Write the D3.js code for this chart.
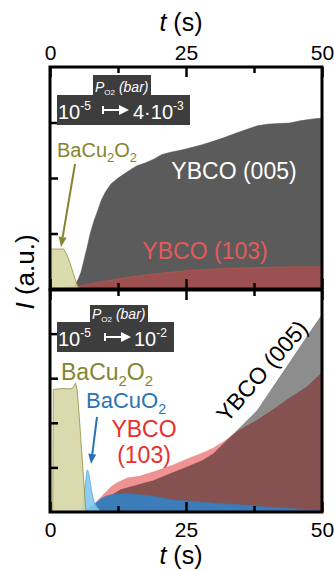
<!DOCTYPE html>
<html><head><meta charset="utf-8">
<script src="https://cdn.jsdelivr.net/npm/d3@7"></script>
<style>body{margin:0;background:#fff}svg{display:block}text{font-family:"Liberation Sans",Arial,sans-serif}</style>
</head><body><svg id="c" width="334" height="571"></svg>
<script>
// ---- data ----
const xTicksMajor = [0, 25, 50];
const xTicksMinor = [12.5, 37.5];
const yTicksTop = [1, 2, 3];
const yTicksBot = [1, 2, 3, 4];

// top panel (pO2 1e-5 -> 4e-3)
const topBaCu2O2_t = [0, 2.5, 3.1, 3.7, 4.3, 4.9, 5.4];
const topBaCu2O2_v = [0.72, 0.72, 0.62, 0.46, 0.28, 0.10, 0];
const topY005_t = [4.0, 4.6, 5.2, 5.7, 6.2, 6.8, 7.4, 8.1, 8.8, 9.4, 10.2, 11.2, 12.4, 13.6, 14.8, 16.0, 17.5, 19.1, 20.5, 22, 24, 25.7, 28, 30, 31.8, 34, 36, 38.1, 40, 42, 44.1, 46, 48, 50];
const topY005_v = [0, 0.06, 0.18, 0.30, 0.50, 0.74, 1.0, 1.23, 1.42, 1.59, 1.75, 1.89, 1.99, 2.07, 2.15, 2.22, 2.27, 2.34, 2.42, 2.46, 2.50, 2.54, 2.60, 2.66, 2.72, 2.80, 2.87, 2.94, 2.97, 2.98, 2.99, 3.03, 3.06, 3.08];
const topY103_t = [0, 5, 10, 15, 20, 25, 30, 35, 40, 45, 50];
const topY103_v = [0, 0.05, 0.14, 0.22, 0.28, 0.33, 0.36, 0.38, 0.39, 0.40, 0.40];

// bottom panel (pO2 1e-5 -> 1e-2)
const botBaCu2O2_t = [0.5, 0.6, 1.5, 2.5, 3.5, 4.2, 4.7, 5.0, 5.4, 5.8, 6.2, 6.6];
const botBaCu2O2_v = [0, 2.75, 2.76, 2.77, 2.76, 2.78, 2.89, 2.73, 2.1, 1.4, 0.7, 0];
const botBaCuO2peak_t = [5.4, 5.9, 6.3, 6.6, 6.85, 7.1, 7.4, 7.8, 8.3, 8.9, 9.5];
const botBaCuO2peak_v = [0, 0.1, 0.4, 0.75, 0.94, 0.88, 0.66, 0.38, 0.18, 0.07, 0];
const botBaCuO2_t = [5, 6, 7, 8, 9, 10, 11, 12, 14, 16, 18, 20, 22.6, 25, 28, 31, 35, 38, 41, 44, 47, 50];
const botBaCuO2_v = [0, 0.03, 0.08, 0.16, 0.26, 0.34, 0.38, 0.40, 0.41, 0.39, 0.37, 0.33, 0.27, 0.25, 0.22, 0.19, 0.16, 0.13, 0.10, 0.08, 0.05, 0.03];
const botY103_t = [6, 8, 9.5, 11.2, 12.3, 14.2, 16.5, 19.1, 22.6, 25.7, 28, 30, 32, 34.9, 38, 41, 44, 47.2, 50];
const botY103_v = [0, 0.15, 0.35, 0.56, 0.65, 0.76, 0.80, 0.90, 1.05, 1.21, 1.32, 1.43, 1.58, 1.84, 2.05, 2.29, 2.55, 2.80, 3.12];
const botY005_t = [7, 9, 11, 13, 16, 19, 22, 25, 28, 30, 32.5, 35, 38.2, 41, 44, 47, 50];
const botY005_v = [0, 0.15, 0.35, 0.5, 0.6, 0.7, 0.85, 1.0, 1.15, 1.3, 1.6, 1.9, 2.29, 2.8, 3.34, 3.89, 4.42];

// ---- drawing ----
const svg = d3.select("#c");
svg.append("rect").attr("width",334).attr("height",571).attr("fill","#fff");
const L = 50, R = 322;
const x = d3.scaleLinear().domain([0,50]).range([L,R]);
const yT = d3.scaleLinear().domain([0,4]).range([289,67]);
const yB = d3.scaleLinear().domain([0,5]).range([512,289]);
const zip = (t,v) => t.map((d,i)=>[d,v[i]]);

const defs = svg.append("defs");
defs.append("clipPath").attr("id","clipT").append("rect").attr("x",L).attr("y",67).attr("width",R-L).attr("height",289-67);
defs.append("clipPath").attr("id","clipB").append("rect").attr("x",L).attr("y",290).attr("width",R-L).attr("height",512-290);

function area(y){ return d3.area().x(d=>x(d[0])).y0(y(0)).y1(d=>y(d[1])).curve(d3.curveLinear); }

// top panel marks
const gT = svg.append("g").attr("clip-path","url(#clipT)");
gT.append("path").datum(zip(topY005_t,topY005_v)).attr("d",area(yT)).attr("fill","#5b5b5b").attr("stroke","#555").attr("stroke-width",0.6);
gT.append("path").datum(zip(topY103_t,topY103_v)).attr("d",area(yT).curve(d3.curveMonotoneX)).attr("fill","rgba(222,72,72,0.5)").attr("stroke","rgba(220,80,80,0.6)").attr("stroke-width",0.8);
gT.append("path").datum(zip(topBaCu2O2_t,topBaCu2O2_v)).attr("d",area(yT)).attr("fill","rgba(212,212,158,0.85)").attr("stroke","#8f8f45").attr("stroke-width",0.8);

// bottom panel marks
const gB = svg.append("g").attr("clip-path","url(#clipB)");
gB.append("rect").attr("x",L).attr("y",290).attr("width",R-L).attr("height",222).attr("fill","#fff");
gB.append("path").datum(zip(botY005_t,botY005_v)).attr("d",area(yB)).attr("fill","#8d8d8d").attr("stroke","#7a7a7a").attr("stroke-width",0.6);
gB.append("path").datum(zip(botY103_t,botY103_v)).attr("d",area(yB)).attr("fill","#f29393").style("mix-blend-mode","multiply").attr("stroke","#e88080").attr("stroke-width",0.6);
gB.append("path").datum(zip(botBaCuO2_t,botBaCuO2_v)).attr("d",area(yB).curve(d3.curveMonotoneX)).attr("fill","#3c7cb8").attr("stroke","#3a78b0").attr("stroke-width",0.6);
gB.append("path").datum(zip(botBaCuO2peak_t,botBaCuO2peak_v)).attr("d",area(yB).curve(d3.curveMonotoneX)).attr("fill","rgba(130,200,240,0.9)").attr("stroke","#5aa8dc").attr("stroke-width",0.8);
gB.append("path").datum(zip(botBaCu2O2_t,botBaCu2O2_v)).attr("d",area(yB)).attr("fill","rgba(212,212,160,0.85)").attr("stroke","#8f8f45").attr("stroke-width",0.8);

// axes
function styleAxis(g){ g.select(".domain").remove(); g.selectAll(".tick line").attr("stroke","#000").attr("stroke-width",2.5); g.selectAll("text").attr("fill","#000").attr("font-size",21).attr("font-family","'Liberation Sans',Arial,sans-serif"); }
svg.append("g").attr("transform","translate(0,67)").call(d3.axisTop(x).tickValues(xTicksMajor).tickSize(-10).tickPadding(7)).call(styleAxis);
svg.append("g").attr("transform","translate(0,67)").call(d3.axisTop(x).tickValues(xTicksMinor).tickSize(-6).tickFormat("")).call(styleAxis);
svg.append("g").attr("transform","translate(0,289)").call(d3.axisBottom(x).tickValues(xTicksMajor).tickSize(-10).tickFormat("")).call(styleAxis);
svg.append("g").attr("transform","translate(0,289)").call(d3.axisBottom(x).tickValues(xTicksMinor).tickSize(-6).tickFormat("")).call(styleAxis);
svg.append("g").attr("transform","translate(0,290)").call(d3.axisTop(x).tickValues(xTicksMajor).tickSize(-10).tickFormat("")).call(styleAxis);
svg.append("g").attr("transform","translate(0,290)").call(d3.axisTop(x).tickValues(xTicksMinor).tickSize(-6).tickFormat("")).call(styleAxis);
svg.append("g").attr("transform","translate(0,512)").call(d3.axisBottom(x).tickValues(xTicksMajor).tickSize(-10).tickPadding(10)).call(styleAxis);
svg.append("g").attr("transform","translate(0,512)").call(d3.axisBottom(x).tickValues(xTicksMinor).tickSize(-6).tickFormat("")).call(styleAxis);
svg.append("g").attr("transform",`translate(${L},0)`).call(d3.axisLeft(yT).tickValues(yTicksTop).tickSize(-8).tickFormat("")).call(styleAxis);
svg.append("g").attr("transform",`translate(${L},0)`).call(d3.axisLeft(yB).tickValues(yTicksBot).tickSize(-8).tickFormat("")).call(styleAxis);

// frames
svg.append("rect").attr("x",L).attr("y",67).attr("width",R-L).attr("height",289-67).attr("fill","none").attr("stroke","#000").attr("stroke-width",3);
svg.append("rect").attr("x",L).attr("y",290).attr("width",R-L).attr("height",512-290).attr("fill","none").attr("stroke","#000").attr("stroke-width",3);

// axis titles
function tTitle(y){
  const t = svg.append("text").attr("x",181).attr("y",y).attr("text-anchor","middle").attr("font-size",25).attr("fill","#000");
  t.append("tspan").attr("font-style","italic").text("t");
  t.append("tspan").text(" (s)");
}
tTitle(31); tTitle(564);
const yl = svg.append("text").attr("transform","translate(34,272) rotate(-90)").attr("text-anchor","middle").attr("font-size",26).attr("fill","#000");
yl.append("tspan").attr("font-style","italic").text("I");
yl.append("tspan").text(" (a.u.)");

// insets
function inset(tabX, tabY, boxX, boxY, boxW, arrowX1, arrowX2, rightText, rightX, rightSup){
  const g = svg.append("g");
  g.append("rect").attr("x",tabX).attr("y",tabY).attr("width",58).attr("height",boxY-tabY+1).attr("fill","#3d3d3d");
  g.append("rect").attr("x",boxX).attr("y",boxY).attr("width",boxW).attr("height",30).attr("fill","#3d3d3d");
  const p = g.append("text").attr("x",tabX+2).attr("y",boxY-3).attr("fill","#fff").attr("font-size",14);
  p.append("tspan").attr("font-style","italic").text("P");
  p.append("tspan").attr("font-size",8).attr("dy",3).text("O2");
  p.append("tspan").attr("font-style","italic").attr("dy",-3).text(" (bar)");
  const a = g.append("text").attr("x",boxX+1).attr("y",boxY+24).attr("fill","#fff").attr("font-size",20);
  a.append("tspan").text("10");
  a.append("tspan").attr("font-size",12).attr("dy",-9).text("-5");
  const ym = boxY+15;
  g.append("line").attr("x1",arrowX1).attr("x2",arrowX2-7).attr("y1",ym).attr("y2",ym).attr("stroke","#fff").attr("stroke-width",2);
  g.append("line").attr("x1",arrowX1).attr("x2",arrowX1).attr("y1",ym-4).attr("y2",ym+4).attr("stroke","#fff").attr("stroke-width",2);
  g.append("path").attr("d",`M${arrowX2},${ym} L${arrowX2-10},${ym-5} L${arrowX2-10},${ym+5} Z`).attr("fill","#fff");
  const b = g.append("text").attr("x",rightX).attr("y",boxY+24).attr("fill","#fff").attr("font-size",20);
  b.append("tspan").text(rightText);
  b.append("tspan").attr("font-size",12).attr("dy",-9).text(rightSup);
}
inset(93, 75, 57, 95, 133, 103, 129, "4·10", 133, "-3");
inset(90, 305, 57, 322, 117, 105, 131, "10", 134, "-2");

// labels with subscripts
function chem(xp, yp, size, color, parts){
  const t = svg.append("text").attr("x",xp).attr("y",yp).attr("fill",color).attr("font-size",size);
  let sub = false;
  parts.forEach(([s,isSub])=>{
    const ts = t.append("tspan").text(s);
    if(isSub && !sub){ ts.attr("font-size",size*0.65).attr("dy",size*0.25); sub=true; }
    else if(!isSub && sub){ ts.attr("dy",-size*0.25); sub=false; }
  });
  return t;
}
const olive = "#85852f";
chem(57, 157, 20, olive, [["BaCu",false],["2",true],["O",false],["2",true]]);
chem(61, 380, 23, olive, [["BaCu",false],["2",true],["O",false],["2",true]]);
chem(86, 408, 22, "#2a72b8", [["BaCuO",false],["2",true]]);

// arrows
function arrow(x1,y1,x2,y2,color){
  const ang = Math.atan2(y2-y1,x2-x1), hl=10, hw=4;
  const bx = x2-hl*Math.cos(ang), by = y2-hl*Math.sin(ang);
  svg.append("line").attr("x1",x1).attr("y1",y1).attr("x2",bx).attr("y2",by).attr("stroke",color).attr("stroke-width",2);
  svg.append("path").attr("d",`M${x2},${y2} L${bx+hw*Math.sin(ang)},${by-hw*Math.cos(ang)} L${bx-hw*Math.sin(ang)},${by+hw*Math.cos(ang)} Z`).attr("fill",color);
}
arrow(75,164,61,247,olive);
arrow(97,417,91,464,"#2a72b8");

svg.append("text").attr("x",234).attr("y",179).attr("text-anchor","middle").attr("font-size",23).attr("fill","#fff").text("YBCO (005)");
svg.append("text").attr("x",205).attr("y",259).attr("text-anchor","middle").attr("font-size",23).attr("fill","#e45a5a").text("YBCO (103)");
svg.append("text").attr("x",144).attr("y",437).attr("text-anchor","middle").attr("font-size",23).attr("fill","#e8302e").text("YBCO");
svg.append("text").attr("x",144).attr("y",463).attr("text-anchor","middle").attr("font-size",23).attr("fill","#e8302e").text("(103)");
svg.append("text").attr("transform","translate(262,371) rotate(-49)").attr("text-anchor","middle").attr("dominant-baseline","central").attr("font-size",23).attr("fill","#000").text("YBCO (005)");
</script></body></html>
